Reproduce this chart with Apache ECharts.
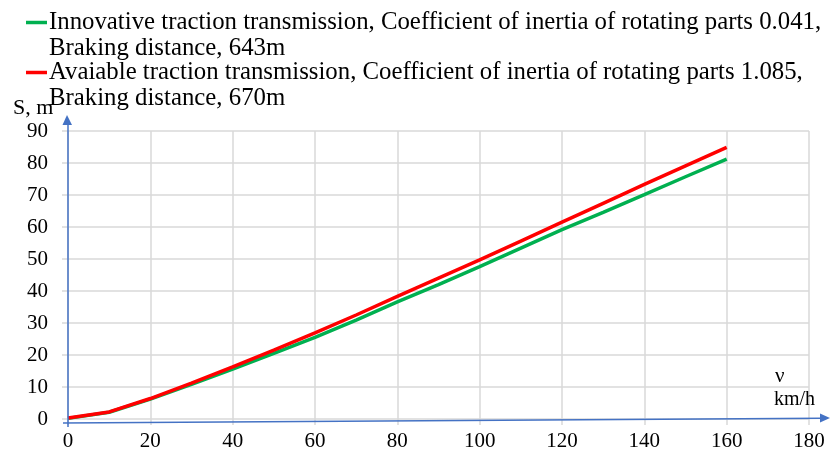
<!DOCTYPE html>
<html><head><meta charset="utf-8">
<script src="https://cdn.jsdelivr.net/npm/echarts@6/dist/echarts.min.js"></script>
<style>html,body{margin:0;padding:0;background:#fff}#c{width:830px;height:457px}</style>
</head><body><div id="c"></div>
<script>
const speeds = [0, 10, 20, 30, 40, 50, 60, 70, 80, 90, 100, 110, 120, 130, 140, 150, 160];
const innovative = [0.2, 2.1, 6.2, 10.8, 15.6, 20.5, 25.5, 30.9, 36.6, 42.0, 47.6, 53.4, 59.2, 64.6, 70.1, 75.7, 81.2];
const available = [0.3, 2.2, 6.4, 11.2, 16.3, 21.5, 26.9, 32.5, 38.3, 44.0, 49.7, 55.6, 61.5, 67.4, 73.3, 79.1, 84.9];
const seriesNames = [
  'Innovative traction transmission, Coefficient of inertia of rotating parts 0.041,\nBraking distance, 643m',
  'Avaiable traction transmission, Coefficient of inertia of rotating parts 1.085,\nBraking distance, 670m'
];
const seriesColors = ['#00b050', '#ff0000'];
const yAxisName = 'S, m';
const xAxisName1 = 'ν';
const xAxisName2 = 'km/h';

const FONT = '"Liberation Serif", "Times New Roman", serif';
const chart = echarts.init(document.getElementById('c'), null, {renderer: 'canvas'});
const gridBox = {left: 68, right: 21, top: 131, bottom: 38};
chart.setOption({
  animation: false,
  grid: gridBox,
  xAxis: {
    type: 'value', min: 0, max: 180, interval: 20,
    axisLine: {show: false},
    axisTick: {show: true, length: 6, lineStyle: {color: '#d9d9d9', width: 1.5}},
    splitLine: {show: true, lineStyle: {color: '#d9d9d9', width: 1.5}},
    axisLabel: {color: '#000', fontFamily: FONT, fontSize: 21, margin: 12}
  },
  yAxis: {
    type: 'value', min: 0, max: 90, interval: 10,
    axisLine: {show: false},
    axisTick: {show: true, length: 6, lineStyle: {color: '#d9d9d9', width: 1.5}},
    splitLine: {show: true, lineStyle: {color: '#d9d9d9', width: 1.5}},
    axisLabel: {color: '#000', fontFamily: FONT, fontSize: 21, margin: 20}
  },
  series: [
    {name: seriesNames[0], type: 'line', data: speeds.map((v, i) => [v, innovative[i]]),
     showSymbol: false, lineStyle: {color: seriesColors[0], width: 3.5}, itemStyle: {color: seriesColors[0]}, z: 3},
    {name: seriesNames[1], type: 'line', data: speeds.map((v, i) => [v, available[i]]),
     showSymbol: false, lineStyle: {color: seriesColors[1], width: 3.5}, itemStyle: {color: seriesColors[1]}, z: 4}
  ]
});

const o = chart.convertToPixel({gridIndex: 0}, [0, 0]);
const yTop = chart.convertToPixel({gridIndex: 0}, [0, 90])[1];
const ox = o[0], oy = o[1];
const blue = '#4472c4';
const W = 830;
const graphics = [
  {type: 'line', shape: {x1: ox, y1: oy + 8, x2: ox, y2: yTop - 8}, style: {stroke: blue, lineWidth: 1.5}, z: 10},
  {type: 'polygon', shape: {points: [[ox - 1, yTop - 16], [ox - 5.5, yTop - 6], [ox + 4, yTop - 6]]}, style: {fill: blue}, z: 10},
  {type: 'line', shape: {x1: ox - 5, y1: oy + 4, x2: W - 8, y2: oy - 0.8}, style: {stroke: blue, lineWidth: 1.5}, z: 10},
  {type: 'polygon', shape: {points: [[W, oy - 1], [W - 10, oy - 5.5], [W - 10, oy + 3.5]]}, style: {fill: blue}, z: 10},
  {type: 'text', style: {text: yAxisName, x: 13, y: 108, font: '22px ' + FONT, fill: '#000', verticalAlign: 'middle'}},
  {type: 'text', style: {text: xAxisName1, x: 775, y: 376, font: '21px ' + FONT, fill: '#000', verticalAlign: 'middle'}},
  {type: 'text', style: {text: xAxisName2, x: 774, y: 400, font: '20px ' + FONT, fill: '#000', verticalAlign: 'middle'}}
];
const legendY = [22, 72];
seriesNames.forEach((name, i) => {
  graphics.push({type: 'line', shape: {x1: 26, y1: legendY[i] + 0.5, x2: 47, y2: legendY[i] + 0.5},
    style: {stroke: seriesColors[i], lineWidth: 3.5}});
  graphics.push({type: 'text', style: {text: name, x: 49, y: legendY[i] - 13, font: '24.8px ' + FONT,
    lineHeight: 26, fill: '#000', verticalAlign: 'top'}});
});
chart.setOption({graphic: graphics});
</script></body></html>
